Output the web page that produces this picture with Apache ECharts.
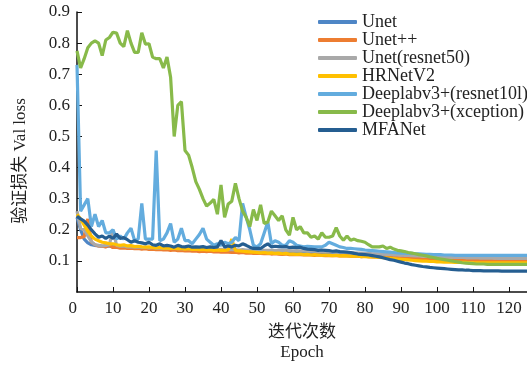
<!DOCTYPE html>
<html>
<head>
<meta charset="utf-8">
<script src="https://cdn.jsdelivr.net/npm/echarts@6/dist/echarts.min.js"></script>
<style>
  html, body { margin: 0; padding: 0; background: #fff; }
  #chart { width: 527px; height: 368px; }
</style>
</head>
<body>
<div id="chart"></div>
<script>
// 各模型验证损失（epoch 0..125）
const names = ['Unet', 'Unet++', 'Unet(resnet50)', 'HRNetV2', 'Deeplabv3+(resnet10l)', 'Deeplabv3+(xception)', 'MFANet'];
const colors = ['#4E86C6', '#ED7D31', '#A9A9A9', '#FFC000', '#63ACDE', '#88BA4A', '#255E91'];

const unet = [
  0.24, 0.2, 0.17, 0.158, 0.152, 0.15, 0.148, 0.147, 0.146, 0.148,
  0.145, 0.146, 0.144, 0.143, 0.145, 0.142, 0.142, 0.143, 0.141, 0.14,
  0.141, 0.14, 0.139, 0.14, 0.138, 0.139, 0.137, 0.138, 0.137, 0.136,
  0.137, 0.136, 0.135, 0.136, 0.135, 0.134, 0.135, 0.134, 0.133, 0.134,
  0.133, 0.134, 0.132, 0.133, 0.132, 0.131, 0.132, 0.131, 0.13, 0.131,
  0.13, 0.131, 0.13, 0.129, 0.13, 0.129, 0.128, 0.129, 0.128, 0.127,
  0.128, 0.127, 0.127, 0.126, 0.127, 0.126, 0.126, 0.125, 0.126, 0.125,
  0.125, 0.124, 0.125, 0.124, 0.124, 0.123, 0.124, 0.123, 0.123, 0.122,
  0.122, 0.122, 0.121, 0.121, 0.121, 0.12, 0.12, 0.12, 0.119, 0.119,
  0.119, 0.118, 0.118, 0.118, 0.118, 0.117, 0.117, 0.117, 0.117, 0.116,
  0.116, 0.116, 0.116, 0.116, 0.116, 0.115, 0.115, 0.115, 0.115, 0.115,
  0.115, 0.115, 0.115, 0.115, 0.115, 0.115, 0.115, 0.115, 0.115, 0.115,
  0.115, 0.115, 0.115, 0.115, 0.115, 0.115
];
const unetPP = [
  0.175, 0.175, 0.178, 0.235, 0.16, 0.152, 0.148, 0.147, 0.145, 0.15,
  0.143, 0.144, 0.141, 0.142, 0.14, 0.141, 0.139, 0.14, 0.138, 0.139,
  0.137, 0.138, 0.136, 0.137, 0.135, 0.136, 0.134, 0.135, 0.133, 0.134,
  0.132, 0.133, 0.131, 0.132, 0.13, 0.131, 0.13, 0.131, 0.129, 0.13,
  0.128, 0.129, 0.128, 0.127, 0.128, 0.126, 0.127, 0.125, 0.126, 0.124,
  0.125, 0.124, 0.123, 0.124, 0.122, 0.123, 0.122, 0.121, 0.122, 0.12,
  0.121, 0.12, 0.12, 0.119, 0.12, 0.119, 0.118, 0.119, 0.118, 0.117,
  0.118, 0.117, 0.117, 0.116, 0.117, 0.116, 0.115, 0.116, 0.115, 0.114,
  0.115, 0.114, 0.113, 0.113, 0.112, 0.112, 0.111, 0.111, 0.11, 0.11,
  0.109, 0.109, 0.108, 0.108, 0.107, 0.107, 0.106, 0.106, 0.105, 0.105,
  0.105, 0.104, 0.104, 0.104, 0.103, 0.103, 0.103, 0.102, 0.102, 0.102,
  0.102, 0.101, 0.101, 0.101, 0.101, 0.101, 0.1, 0.1, 0.1, 0.1,
  0.1, 0.1, 0.1, 0.1, 0.1, 0.1
];
const unetRes50 = [
  0.26, 0.205, 0.2, 0.18, 0.162, 0.152, 0.15, 0.148, 0.15, 0.152,
  0.2, 0.15, 0.147, 0.148, 0.145, 0.146, 0.144, 0.145, 0.143, 0.144,
  0.142, 0.143, 0.141, 0.142, 0.14, 0.141, 0.14, 0.14, 0.139, 0.14,
  0.139, 0.139, 0.138, 0.139, 0.138, 0.138, 0.137, 0.138, 0.137, 0.137,
  0.137, 0.136, 0.137, 0.136, 0.136, 0.135, 0.136, 0.135, 0.135, 0.135,
  0.134, 0.135, 0.134, 0.134, 0.134, 0.133, 0.134, 0.133, 0.133, 0.133,
  0.132, 0.133, 0.132, 0.132, 0.131, 0.131, 0.131, 0.13, 0.13, 0.13,
  0.129, 0.129, 0.128, 0.128, 0.127, 0.127, 0.126, 0.126, 0.125, 0.125,
  0.124, 0.124, 0.123, 0.123, 0.122, 0.122, 0.121, 0.121, 0.12, 0.12,
  0.119, 0.118, 0.118, 0.117, 0.116, 0.116, 0.115, 0.115, 0.114, 0.114,
  0.113, 0.113, 0.112, 0.112, 0.112, 0.111, 0.111, 0.111, 0.11, 0.11,
  0.11, 0.11, 0.109, 0.109, 0.109, 0.109, 0.109, 0.108, 0.108, 0.108,
  0.108, 0.108, 0.108, 0.108, 0.108, 0.108
];
const hrnet = [
  0.25, 0.235, 0.215, 0.195, 0.18, 0.17, 0.165, 0.16, 0.158, 0.155,
  0.155, 0.152, 0.15, 0.152, 0.148, 0.149, 0.146, 0.147, 0.145, 0.144,
  0.145, 0.143, 0.142, 0.143, 0.141, 0.142, 0.14, 0.141, 0.139, 0.14,
  0.138, 0.139, 0.137, 0.138, 0.136, 0.137, 0.135, 0.136, 0.134, 0.135,
  0.134, 0.134, 0.135, 0.17, 0.133, 0.132, 0.131, 0.13, 0.129, 0.128,
  0.127, 0.126, 0.127, 0.125, 0.126, 0.124, 0.125, 0.123, 0.124, 0.122,
  0.122, 0.121, 0.122, 0.12, 0.121, 0.119, 0.12, 0.119, 0.118, 0.119,
  0.118, 0.117, 0.118, 0.116, 0.117, 0.116, 0.115, 0.116, 0.115, 0.114,
  0.114, 0.113, 0.113, 0.112, 0.111, 0.11, 0.109, 0.108, 0.107, 0.106,
  0.105, 0.104, 0.103, 0.102, 0.101, 0.1, 0.099, 0.099, 0.098, 0.098,
  0.097, 0.097, 0.096, 0.096, 0.096, 0.095, 0.095, 0.095, 0.095, 0.094,
  0.094, 0.094, 0.094, 0.094, 0.094, 0.094, 0.094, 0.094, 0.094, 0.094,
  0.094, 0.094, 0.094, 0.094, 0.094, 0.094
];
const deeplabRes = [
  0.73, 0.26, 0.28, 0.30, 0.21, 0.25, 0.21, 0.23, 0.19, 0.19,
  0.20, 0.17, 0.18, 0.17, 0.19, 0.205, 0.165, 0.17, 0.285, 0.17,
  0.17, 0.17, 0.455, 0.165, 0.17, 0.19, 0.22, 0.16, 0.17, 0.205,
  0.165, 0.165, 0.155, 0.17, 0.185, 0.205, 0.17, 0.16, 0.15, 0.155,
  0.15, 0.16, 0.155, 0.16, 0.175, 0.165, 0.285, 0.24, 0.20, 0.15,
  0.145, 0.155, 0.19, 0.225, 0.155, 0.165, 0.16, 0.15, 0.15, 0.165,
  0.16, 0.15, 0.148, 0.145, 0.147, 0.146, 0.145, 0.145, 0.145, 0.15,
  0.16, 0.155, 0.15, 0.145, 0.143, 0.14, 0.14, 0.139, 0.138, 0.137,
  0.135, 0.134, 0.133, 0.132, 0.131, 0.13, 0.129, 0.128, 0.127, 0.126,
  0.125, 0.125, 0.124, 0.124, 0.123, 0.123, 0.122, 0.121, 0.121, 0.12,
  0.12, 0.12, 0.119, 0.119, 0.119, 0.118, 0.118, 0.118, 0.118, 0.118,
  0.118, 0.118, 0.118, 0.118, 0.118, 0.118, 0.118, 0.118, 0.118, 0.118,
  0.118, 0.118, 0.118, 0.118, 0.118, 0.118
];
const deeplabXcp = [
  0.775, 0.72, 0.75, 0.785, 0.80, 0.807, 0.80, 0.76, 0.81, 0.818,
  0.835, 0.832, 0.80, 0.789, 0.84, 0.80, 0.77, 0.77, 0.833, 0.797,
  0.798, 0.755, 0.75, 0.75, 0.72, 0.755, 0.69, 0.50, 0.60, 0.612,
  0.455, 0.44, 0.40, 0.355, 0.33, 0.30, 0.276, 0.286, 0.298, 0.25,
  0.344, 0.24, 0.283, 0.292, 0.349, 0.30, 0.26, 0.24, 0.21, 0.265,
  0.23, 0.28, 0.22, 0.225, 0.26, 0.245, 0.23, 0.245, 0.20, 0.183,
  0.24, 0.20, 0.21, 0.19, 0.19, 0.176, 0.18, 0.17, 0.19, 0.176,
  0.176, 0.18, 0.207, 0.18, 0.166, 0.18, 0.166, 0.17, 0.165, 0.163,
  0.16, 0.152, 0.145, 0.145, 0.145, 0.148, 0.14, 0.144, 0.138, 0.134,
  0.132, 0.13, 0.127, 0.125, 0.123, 0.12, 0.118, 0.116, 0.113, 0.111,
  0.108, 0.106, 0.104, 0.102, 0.1, 0.098, 0.096, 0.094, 0.093, 0.092,
  0.091, 0.09, 0.09, 0.09, 0.089, 0.089, 0.089, 0.089, 0.089, 0.089,
  0.089, 0.089, 0.089, 0.089, 0.089, 0.089
];
const mfanet = [
  0.243, 0.235, 0.228, 0.215, 0.20, 0.187, 0.176, 0.18, 0.172, 0.18,
  0.172, 0.186, 0.172, 0.175, 0.168, 0.16, 0.165, 0.16, 0.158, 0.155,
  0.16, 0.152, 0.15, 0.155, 0.148, 0.15, 0.148, 0.144, 0.15, 0.146,
  0.145, 0.148, 0.144, 0.145, 0.144, 0.146, 0.143, 0.145, 0.143, 0.145,
  0.165, 0.145, 0.148, 0.145, 0.15, 0.148, 0.155, 0.15, 0.144, 0.14,
  0.14, 0.14, 0.148, 0.155, 0.145, 0.147, 0.146, 0.145, 0.146, 0.143,
  0.144, 0.143, 0.144, 0.14, 0.138, 0.137, 0.136, 0.134, 0.135, 0.134,
  0.133, 0.131, 0.132, 0.13, 0.129, 0.128, 0.127, 0.124, 0.122, 0.121,
  0.12, 0.119, 0.117, 0.115, 0.113, 0.11, 0.107, 0.104, 0.102, 0.099,
  0.096, 0.093, 0.091, 0.088, 0.086, 0.084, 0.082, 0.081, 0.079, 0.078,
  0.077, 0.076, 0.075, 0.074, 0.073, 0.072, 0.071, 0.071, 0.07, 0.07,
  0.069, 0.069, 0.069, 0.068, 0.068, 0.068, 0.068, 0.068, 0.067, 0.067,
  0.067, 0.067, 0.067, 0.067, 0.067, 0.067
];

const allSeries = [unet, unetPP, unetRes50, hrnet, deeplabRes, deeplabXcp, mfanet];

const serif = '"Liberation Serif", "Noto Sans CJK SC", serif';
const chart = echarts.init(document.getElementById('chart'));

const option = {
    animation: false,
    color: colors,
    grid: { left: 77, right: 0, top: 12, bottom: 71 },
    legend: {
        orient: 'vertical',
        left: 313,
        top: 8,
        itemWidth: 39,
        itemHeight: 4,
        itemGap: 0,
        icon: 'roundRect',
        textStyle: { fontFamily: serif, fontSize: 18, lineHeight: 16, color: '#222' },
        data: names,
    },
    xAxis: {
        type: 'value',
        min: 0,
        max: 125,
        interval: 10,
        name: '迭代次数\nEpoch',
        nameLocation: 'middle',
        nameGap: 31,
        nameTextStyle: { fontFamily: serif, fontSize: 17, lineHeight: 20, color: '#222' },
        axisLine: { lineStyle: { color: '#111', width: 1.5 } },
        axisTick: { inside: true, length: 5, lineStyle: { color: '#111' } },
        axisLabel: {
            fontFamily: serif, fontSize: 17, color: '#222', margin: 8,
            showMaxLabel: false, alignMinLabel: 'right',
        },
        splitLine: { show: false },
    },
    yAxis: {
        type: 'value',
        min: 0,
        max: 0.9,
        interval: 0.1,
        name: '验证损失 Val loss',
        nameLocation: 'middle',
        nameGap: 48,
        nameTextStyle: { fontFamily: serif, fontSize: 17, color: '#222', padding: [0, 18, 0, 0] },
        axisLine: { show: true, lineStyle: { color: '#111', width: 1.5 } },
        axisTick: { show: true, inside: true, length: 5, lineStyle: { color: '#111' } },
        axisLabel: {
            fontFamily: serif, fontSize: 17, color: '#222', margin: 7,
            showMinLabel: false,
            formatter: v => v.toFixed(1),
        },
        splitLine: { show: false },
    },
    series: allSeries.map((vals, k) => ({
        name: names[k],
        type: 'line',
        symbol: 'none',
        lineStyle: { width: 3.2, color: colors[k] },
        data: vals.map((v, i) => [i, v]),
    })),
};

chart.setOption(option);
</script>
</body>
</html>
